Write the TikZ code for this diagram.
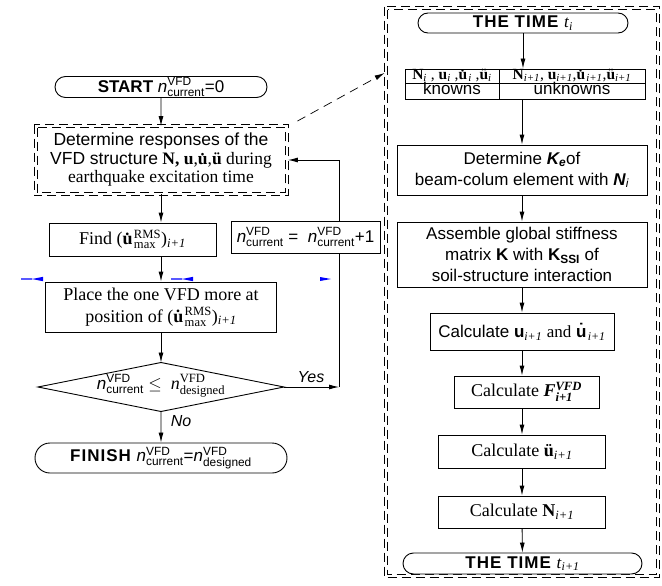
\documentclass[tikz,border=0pt]{standalone}
\usepackage{amsmath}
\usepackage{fontspec}
\setmainfont{Liberation Serif}
\setsansfont{Liberation Sans}
\usetikzlibrary{arrows.meta}
\usetikzlibrary{calc, shapes.misc}
\definecolor{mkblue}{HTML}{0000FF}
\newcommand{\nvfd}[1]{\textit{n}\ensuremath{^{\text{VFD}}_{\text{#1}}}}
\newcommand{\velu}{\textbf{\.u}}
\newcommand{\accu}{\textbf{ü}}
\newcommand{\ipo}{\ensuremath{_{\text{\rmfamily\mdseries\itshape i+1}}}}
\newcommand{\subi}{\ensuremath{_{\text{\mdseries\itshape i}}}}
\newcommand{\wide}[1]{{\addfontfeature{LetterSpace=6}#1}}

\begin{document}
\begin{tikzpicture}[x=1pt, y=-1pt, line width=0.9pt,
	arr/.style={-{Latex[length=10pt,width=5pt]}},
	proc/.style={draw, fill=white, align=center, inner sep=0pt},
	term/.style={draw, rounded rectangle, fill=white, inner sep=0pt, font=\fontsize{17}{19}\selectfont\sffamily},
	dline/.style={line width=0.7pt, dash pattern=on 9pt off 5pt},
	cell/.style={draw, inner sep=0pt, font=\fontsize{15.5}{17}\selectfont},
	serif/.style={font=\fontsize{18}{22}\selectfont},
	sans/.style={font=\fontsize{17}{21}\selectfont\sffamily},
	lbl/.style={font=\fontsize{16}{18}\selectfont\sffamily\itshape}]
	\useasboundingbox (0,0) rectangle (662,586);
	% left column
	\node[term, minimum width=212, minimum height=21] (start) at (161,87) {\textbf{START} \nvfd{current}=0};
	\node[align=center, minimum width=250, minimum height=67, inner sep=0pt, font=\fontsize{17.5}{18.5}\selectfont] (resp) at (161,160)
	{{\sffamily Determine responses of the}\\ {\sffamily VFD structure} \textbf{N, u},\velu,\accu{} during\\ earthquake excitation time};
	\foreach \o in {-1.5,1.5}
	\draw[dline] ($(resp.north west)+(-\o,-\o)$) rectangle ($(resp.south east)+(\o,\o)$);
	\node[proc, serif, minimum width=167, minimum height=33] (find) at (132.5,239.5) {Find (\velu$^{\text{RMS}}_{\text{max}}$)\ipo};
	\node[proc, serif, minimum width=231, minimum height=50] (place) at (161,307) {Place the one VFD more at\\ position of (\velu$^{\text{RMS}}_{\text{max}}$)\ipo};
	\node[serif, inner sep=0pt] (dec) at (161,386) {{\sffamily\fontsize{17}{20}\selectfont\nvfd{current}} $\le$\ \ \nvfd{designed}};
	\draw (dec.center) +(-123,1) coordinate (dl) -- +(0,-23.5) coordinate (dt)
	-- +(123,1) coordinate (dr) -- +(0,25.5) coordinate (db) -- cycle;
	\node[term, minimum width=252, minimum height=30] (finish) at (161,458) {\textbf{\wide{FINISH}} \nvfd{current}=\nvfd{designed}};
	% right column
	\node[minimum width=271, minimum height=567, inner sep=0pt] (frame) at (522,292) {};
	\foreach \o in {-1.5,1.5}
	\draw[dline] ($(frame.north west)+(-\o,-\o)$) rectangle ($(frame.south east)+(\o,\o)$);
	\node[term, minimum width=210, minimum height=20] (ti) at (523,23) {\textbf{\wide{THE TIME}} \textrm{\textit{t}\subi}};
	\node[cell, minimum width=94, minimum height=14, text height=9.5pt, text depth=2.5pt] (c11) at (452,76)
	{\textbf{N}\subi{} , \textbf{u}\subi{} ,\velu\subi{} ,\accu\subi};
	\node[cell, minimum width=146, minimum height=14, text height=9.5pt, text depth=2.5pt] (c12) at (572,76)
	{\textbf{N}\ipo, \textbf{u}\ipo,\velu\ipo,\accu\ipo};
	\node[cell, minimum width=94, minimum height=16, text height=11pt, text depth=3pt, font=\fontsize{17}{18}\selectfont\sffamily] (c21) at (452,91) {knowns};
	\node[cell, minimum width=146, minimum height=16, text height=11pt, text depth=3pt, font=\fontsize{17}{18}\selectfont\sffamily] (c22) at (572,91) {unknowns};
	\node[proc, sans, minimum width=250, minimum height=50] (ke) at (522,170) {Determine \textbf{\textit{K$_\text{e}$}}of\\ beam-colum element with \textbf{\textit{N}}\subi};
	\node[proc, sans, minimum width=250, minimum height=65] (asm) at (522,254.5) {Assemble global stiffness\\ matrix \textbf{K} with \textbf{K$_\text{SSI}$} of\\ soil-structure interaction};
	\node[proc, sans, minimum width=184, minimum height=37] (cu) at (522,331.5) {Calculate \textbf{u}\ipo{} \textrm{and} \textbf{\.u}\ipo};
	\node[proc, serif, minimum width=145, minimum height=32] (cf) at (526.5,392) {Calculate \textbf{\textit{F$^{\text{VFD}}_{\text{i+1}}$}}};
	\node[proc, serif, minimum width=167, minimum height=33] (ca) at (522,451.5) {Calculate \accu\ipo};
	\node[proc, serif, minimum width=167, minimum height=32] (cn) at (522,512) {Calculate \textbf{N}\ipo};
	\node[term, minimum width=239, minimum height=21] (tend) at (522.5,563.5) {\textbf{\wide{THE TIME}} \textrm{\textit{t}\ipo}};
	% connectors
	\draw[arr] (start) -- (resp);
	\draw[arr] (resp.south) -- (resp.south |- find.north);
	\draw[arr] (place.north |- find.south) -- (place.north);
	\draw[arr] (place) -- (dt);
	\draw[arr] (db) -- (finish);
	\node[lbl] at (181,421) {No};
	\node[lbl] at (311,377) {Yes};
	\coordinate (yc) at (339,387);
	\draw[arr] (dr) -- (yc);
	\draw[arr] (yc) -- (yc |- resp.east) -- ([xshift=1.5pt]resp.east);
	\node[proc, sans, minimum width=149, minimum height=32] (inc) at (305.5,237) {\nvfd{current} =\ \ \nvfd{current}+1};
	\draw[arr, line width=0.7pt, dash pattern=on 9pt off 6pt] ($(resp.north east)+(11,-5)$) -- ($(frame.west |- 0,73)+(-1.5,0)$);
	\draw[arr] (ti.south) -- (ti.south |- c12.north);
	\draw[arr] (ke.north |- c22.south) -- (ke);
	\draw[arr] (ke) -- (asm);
	\draw[arr] (asm) -- (cu);
	\draw[arr] (cu.south) -- (cu.south |- cf.north);
	\draw[arr] (cu.south |- cf.south) -- (ca.north);
	\draw[arr] (ca) -- (cn);
	\draw[arr] (cn) -- (tend);
	% blue marks
	\foreach \bx in {21,171}
	\fill[mkblue] (\bx,278.3) rectangle (\bx+11,279.7)
	(\bx+11,279) -- (\bx+22,276.8) -- (\bx+22,281.2) -- cycle;
	\fill[mkblue] (320,277) -- (331,279) -- (320,281) -- cycle;
\end{tikzpicture}
\end{document}
